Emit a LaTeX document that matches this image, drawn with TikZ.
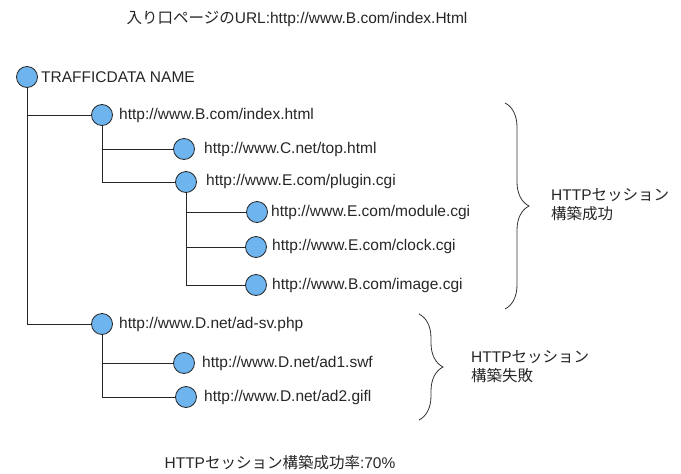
\documentclass[tikz,border=0pt]{standalone}
\usepackage{fontspec}
\setmainfont{Liberation Sans}
\newfontfamily\cjk{Noto Sans CJK JP}
\usetikzlibrary{decorations.pathreplacing}

\definecolor{sitefill}{HTML}{6EB4EE}

\tikzset{
  site/.style={circle, draw=black!85, fill=sitefill, minimum size=21pt, inner sep=0pt, line width=0.8pt},
  url/.style={anchor=west, inner sep=0pt, text=black!85, font=\fontsize{15.5}{19}\selectfont},
  tree/.style={line width=0.8pt, black!85},
  bracket/.style={decorate, decoration={brace, amplitude=24pt}, line width=0.8pt, black!80},
}

\begin{document}
\begin{tikzpicture}[x=1pt, y=-1pt]
      \useasboundingbox (0,0) rectangle (681,474);

      % title and result
      \node[url, anchor=center] (entry) at (297,19) {{\cjk 入り口ページの}URL:http://www.B.com/index.Html};
      \node[url, anchor=center] (rate) at (280,463) {HTTP{\cjk セッション構築成功率}:70\%};

      % sites
      \node[site] (root)  at (27,77)  {};
      \node[site] (bidx)  at (102,115) {};
      \node[site] (ctop)  at (184,149) {};
      \node[site] (eplug) at (186,182) {};
      \node[site] (emod)  at (257,212) {};
      \node[site] (eclk)  at (256,247) {};
      \node[site] (bimg)  at (256,285) {};
      \node[site] (dad)   at (102,324) {};
      \node[site] (dad1)  at (184,363) {};
      \node[site] (dad2)  at (186,397) {};

      % site labels
      \node[url] (rootl)  at (41,77)   {TRAFFICDATA NAME};
      \node[url] (bidxl)  at (119,115) {http://www.B.com/index.html};
      \node[url] (ctopl)  at (204,149) {http://www.C.net/top.html};
      \node[url] (eplugl) at (206,181) {http://www.E.com/plugin.cgi};
      \node[url] (emodl)  at (271,212) {http://www.E.com/module.cgi};
      \node[url] (eclkl)  at (272,246) {http://www.E.com/clock.cgi};
      \node[url] (bimgl)  at (272,285) {http://www.B.com/image.cgi};
      \node[url] (dadl)   at (119,324) {http://www.D.net/ad-sv.php};
      \node[url] (dad1l)  at (202,363) {http://www.D.net/ad1.swf};
      \node[url] (dad2l)  at (204,397) {http://www.D.net/ad2.gifl};

      % tree
      \draw[tree] (root) |- (bidx);
      \draw[tree] (root) |- (dad);
      \draw[tree] (bidx) |- (ctop);
      \draw[tree] (bidx) |- (eplug);
      \draw[tree] (eplug) |- (emod);
      \draw[tree] (eplug) |- (eclk);
      \draw[tree] (eplug) |- (bimg);
      \draw[tree] (dad) |- (dad1);
      \draw[tree] (dad) |- (dad2);

      % session groups
      \coordinate (oktop) at (505,103);
      \coordinate (okbot) at (505,309);
      \coordinate (ngtop) at (419,314);
      \coordinate (ngbot) at (419,420);
      \draw[bracket] (oktop) -- (okbot);
      \draw[bracket] (ngtop) -- (ngbot);
      \node[url, align=left] (okl) at (551,205) {HTTP{\cjk セッション}\\{\cjk 構築成功}};
      \node[url, align=left] (ngl) at (471,367) {HTTP{\cjk セッション}\\{\cjk 構築失敗}};
    \end{tikzpicture}
\end{document}
